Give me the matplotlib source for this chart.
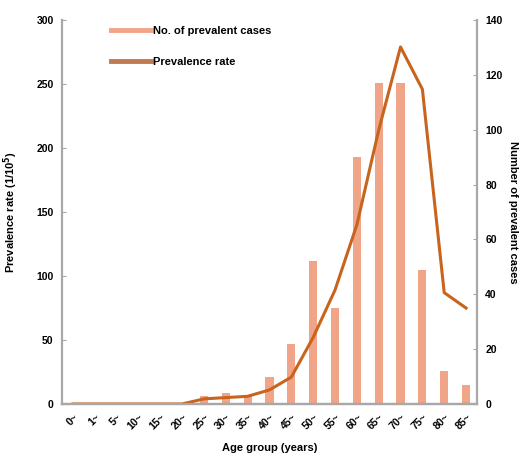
import matplotlib
matplotlib.use('Agg')
import matplotlib.pyplot as plt
from matplotlib.lines import Line2D

# age groups, cases (right axis) and rate per 100,000 (left axis)
age_groups = ['0~', '1~', '5~', '10~', '15~', '20~', '25~', '30~', '35~', '40~',
              '45~', '50~', '55~', '60~', '65~', '70~', '75~', '80~', '85~']
cases = [0, 0, 0, 0, 0, 0, 3, 4, 3, 10, 22, 52, 35, 90, 117, 117, 49, 12, 7]
rate = [0, 0, 0, 0, 0, 0, 4, 5, 6, 11, 21, 52, 89, 140, 214, 279, 246, 87, 75]

bar_color = '#F0A488'
line_color = '#C8641E'
spine_color = '#A8A8A8'

plt.rcParams['font.family'] = ['Liberation Sans', 'DejaVu Sans']
plt.rcParams['font.weight'] = 'bold'

fig = plt.figure(figsize=(5.23, 4.57), dpi=100)
ax = fig.add_axes([0.1185, 0.116, 0.7935, 0.840])
ax2 = ax.twinx()

x = list(range(len(age_groups)))
ax2.bar(x, cases, width=0.37, color=bar_color)
ax.plot(x, rate, color=line_color, linewidth=2.2)

# line on top of the bars
ax.set_zorder(ax2.get_zorder() + 1)
ax.patch.set_visible(False)

ax.set_xlim(-0.5, 18.5)
ax.set_ylim(0, 300)
ax2.set_ylim(0, 140)
ax.set_yticks(range(0, 301, 50))
ax2.set_yticks(range(0, 141, 20))
ax.set_xticks(x)
ax.set_xticklabels(age_groups, rotation=45, ha='right', rotation_mode='anchor')

for a in (ax, ax2):
    for s in a.spines.values():
        s.set_color(spine_color)
        s.set_linewidth(1.6)
    a.spines['top'].set_visible(False)
    a.tick_params(axis='y', direction='in', length=3, color=spine_color,
                  labelsize=7.5, pad=6)
ax.spines['right'].set_visible(False)
ax2.spines['left'].set_visible(False)
ax.tick_params(axis='x', length=0, labelsize=7.5, pad=6)

ax.set_xlabel('Age group (years)', fontsize=8, fontweight='bold', labelpad=8)
ax.set_ylabel('Prevalence rate (1/10$^5$)', fontsize=8, fontweight='bold', labelpad=12)
ax2.set_ylabel('Number of prevalent cases', fontsize=8, fontweight='bold',
               rotation=270, labelpad=11)

handles = [Line2D([0], [0], color=bar_color, linewidth=3.5),
           Line2D([0], [0], color='#C07A50', linewidth=3.5)]
ax.legend(handles, ['No. of prevalent cases', 'Prevalence rate'],
          loc='upper left', bbox_to_anchor=(105 / 523, 1 - 20 / 457),
          bbox_transform=fig.transFigure, frameon=False, fontsize=8,
          handlelength=3.6, handletextpad=0.2, labelspacing=1.9, borderpad=0)

plt.savefig('out.png', dpi=100)
